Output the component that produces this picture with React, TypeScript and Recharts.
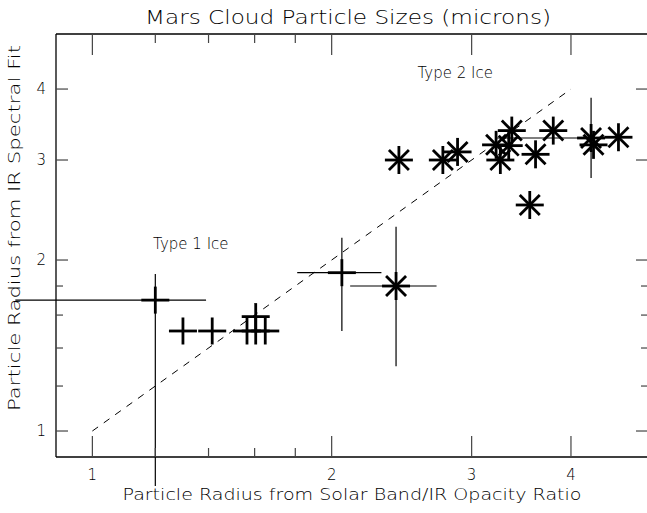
import { ScatterChart, Scatter, XAxis, YAxis, ErrorBar, ReferenceLine, ReferenceDot, Label } from 'recharts';

// Type 1 ice retrievals: radius from solar band / IR opacity ratio vs IR spectral fit
const type1Solar = [1.2, 1.3, 1.415, 1.565, 1.605, 1.65, 1.605, 2.06];
const type1Ir = [1.7, 1.5, 1.5, 1.5, 1.5, 1.5, 1.59, 1.9];
const type1SolarRange: ([number, number] | null)[] = [[0.8, 1.39], null, null, null, null, null, null, [1.81, 2.31]];
const type1IrRange: ([number, number] | null)[] = [[0.8, 1.89], null, null, null, null, null, null, [1.5, 2.19]];

// Type 2 ice retrievals
const type2Solar = [2.41, 2.43, 2.76, 2.88, 3.22, 3.26, 3.34, 3.37, 3.55, 3.61, 3.8, 4.24, 4.27, 4.59];
const type2Ir = [1.8, 3.0, 3.0, 3.1, 3.19, 3.0, 3.18, 3.38, 2.5, 3.07, 3.38, 3.28, 3.19, 3.29];
const type2SolarRange: ([number, number] | null)[] = [
  [2.11, 2.71], null, null, null, null, null, null, null, null, null, null, [3.23, 4.38], null, null,
];
const type2IrRange: ([number, number] | null)[] = [
  [1.3, 2.29], null, null, null, null, null, null, null, null, null, null, [2.79, 3.86], null, null,
];

// one-to-one reference line
const oneToOne = [1, 4];

const axisTicks = [1, 1.2, 1.4, 1.6, 1.8, 2, 3, 4];
const labelledTicks = [1, 2, 3, 4];
const DOMAIN: [number, number] = [0.9, 5];

const FONT = '"DejaVu Sans", sans-serif';
const INK = '#000';
const TICK_INK = '#444';

function toRows(
  xs: number[],
  ys: number[],
  xr: ([number, number] | null)[],
  yr: ([number, number] | null)[],
) {
  return xs.map((x, i) => ({
    x,
    y: ys[i],
    ex: xr[i] ? [x - xr[i]![0], xr[i]![1] - x] : null,
    ey: yr[i] ? [ys[i] - yr[i]![0], yr[i]![1] - ys[i]] : null,
  }));
}

const type1Rows = toRows(type1Solar, type1Ir, type1SolarRange, type1IrRange);
const type2Rows = toRows(type2Solar, type2Ir, type2SolarRange, type2IrRange);

function PlusMark(props: any) {
  const { cx, cy } = props;
  return (
    <g stroke="#000" strokeWidth={2.8}>
      <line x1={cx - 14} y1={cy} x2={cx + 14} y2={cy} />
      <line x1={cx} y1={cy - 13.5} x2={cx} y2={cy + 13.5} />
    </g>
  );
}

function StarMark(props: any) {
  const { cx, cy } = props;
  const r = 14;
  const d = 10;
  return (
    <g stroke="#000" strokeWidth={2.8}>
      <line x1={cx - r} y1={cy} x2={cx + r} y2={cy} />
      <line x1={cx} y1={cy - r} x2={cx} y2={cy + r} />
      <line x1={cx - d} y1={cy - d} x2={cx + d} y2={cy + d} />
      <line x1={cx - d} y1={cy + d} x2={cx + d} y2={cy - d} />
    </g>
  );
}

// inward ticks: long for labelled values, short for the minor ones
function BottomTick(props: any) {
  const { x, y, payload } = props;
  const major = labelledTicks.includes(payload.value);
  return (
    <g>
      <line x1={x} y1={y} x2={x} y2={y - (major ? 21 : 9)} stroke={TICK_INK} strokeWidth={1.2} />
      {major && (
        <text x={x} y={y + 23} textAnchor="middle" fontSize={15} fontFamily={FONT} fontWeight={200} fill={INK}>
          {payload.value}
        </text>
      )}
    </g>
  );
}

function TopTick(props: any) {
  const { x, y, payload } = props;
  const major = labelledTicks.includes(payload.value);
  return <line x1={x} y1={y} x2={x} y2={y + (major ? 21 : 9)} stroke={TICK_INK} strokeWidth={1.2} />;
}

function LeftTick(props: any) {
  const { x, y, payload } = props;
  const major = labelledTicks.includes(payload.value);
  return (
    <g>
      <line x1={x} y1={y} x2={x + (major ? 12 : 7)} y2={y} stroke={TICK_INK} strokeWidth={1.2} />
      {major && (
        <text x={x - 10} y={y + 5} textAnchor="end" fontSize={15} fontFamily={FONT} fontWeight={200} fill={INK}>
          {payload.value}
        </text>
      )}
    </g>
  );
}

function RightTick(props: any) {
  const { x, y, payload } = props;
  const major = labelledTicks.includes(payload.value);
  return <line x1={x} y1={y} x2={x - (major ? 12 : 7)} y2={y} stroke={TICK_INK} strokeWidth={1.2} />;
}

const frame = { stroke: '#000', strokeWidth: 1.3 };

export default function App() {
  return (
    <div style={{ position: 'absolute', left: 0, top: 0, width: 647, height: 513, overflow: 'hidden', background: '#fff' }}>
      <svg width={647} height={34} style={{ position: 'absolute', left: 0, top: 0 }}>
        <text
          x={348}
          y={24}
          textAnchor="middle"
          fontSize={19}
          fontFamily={FONT}
          fontWeight={200}
          fill={INK}
          textLength={406}
          lengthAdjust="spacingAndGlyphs"
        >
          Mars Cloud Particle Sizes (microns)
        </text>
      </svg>
      <ScatterChart width={660} height={513} margin={{ top: 33, right: 11, bottom: 0, left: 0 }}>
        <XAxis
          dataKey="x"
          type="number"
          scale="log"
          domain={DOMAIN}
          allowDataOverflow
          ticks={axisTicks}
          interval={0}
          tickSize={0}
          tickMargin={0}
          tickLine={false}
          tick={BottomTick}
          axisLine={frame}
          height={56}
        >
          <Label
            content={({ viewBox }: any) => (
              <text
                x={viewBox.x + viewBox.width / 2}
                y={viewBox.y + 43}
                textAnchor="middle"
                fontSize={15.5}
                fontFamily={FONT}
                fontWeight={200}
                fill={INK}
                textLength={459}
                lengthAdjust="spacingAndGlyphs"
              >
                Particle Radius from Solar Band/IR Opacity Ratio
              </text>
            )}
          />
        </XAxis>
        <XAxis
          xAxisId="top"
          orientation="top"
          dataKey="x"
          type="number"
          scale="log"
          domain={DOMAIN}
          allowDataOverflow
          ticks={axisTicks}
          interval={0}
          tickSize={0}
          tickMargin={0}
          tickLine={false}
          tick={TopTick}
          axisLine={frame}
          height={1}
        />
        <YAxis
          dataKey="y"
          type="number"
          scale="log"
          domain={DOMAIN}
          allowDataOverflow
          ticks={axisTicks}
          interval={0}
          tickSize={0}
          tickMargin={0}
          tickLine={false}
          tick={LeftTick}
          axisLine={frame}
          width={56}
        >
          <Label
            content={() => {
              const cx = 15;
              const cy = 228;
              return (
                <text
                  x={cx}
                  y={cy}
                  transform={`rotate(-90 ${cx} ${cy})`}
                  textAnchor="middle"
                  dominantBaseline="middle"
                  fontSize={15.5}
                  fontFamily={FONT}
                  fontWeight={200}
                  fill={INK}
                  textLength={366}
                  lengthAdjust="spacingAndGlyphs"
                >
                  Particle Radius from IR Spectral Fit
                </text>
              );
            }}
          />
        </YAxis>
        <YAxis
          yAxisId="right"
          orientation="right"
          dataKey="y"
          type="number"
          scale="log"
          domain={DOMAIN}
          allowDataOverflow
          ticks={axisTicks}
          interval={0}
          tickSize={0}
          tickMargin={0}
          tickLine={false}
          tick={RightTick}
          axisLine={frame}
          width={1}
        />
        <ReferenceLine
          segment={[
            { x: oneToOne[0], y: oneToOne[0] },
            { x: oneToOne[1], y: oneToOne[1] },
          ]}
          stroke="#000"
          strokeWidth={1}
          strokeDasharray="7 7"
        />
        <Scatter data={type1Rows} shape={PlusMark} isAnimationActive={false}>
          <ErrorBar dataKey="ex" direction="x" width={0} stroke="#000" strokeWidth={1.2} />
          <ErrorBar dataKey="ey" direction="y" width={0} stroke="#000" strokeWidth={1.2} />
        </Scatter>
        <Scatter data={type2Rows} shape={StarMark} isAnimationActive={false}>
          <ErrorBar dataKey="ex" direction="x" width={0} stroke="#000" strokeWidth={1.2} />
          <ErrorBar dataKey="ey" direction="y" width={0} stroke="#000" strokeWidth={1.2} />
        </Scatter>
        <ReferenceDot x={1.33} y={2.14} r={0} stroke="none" fill="none">
          <Label value="Type 1 Ice" position="center" fontSize={15} fontFamily={FONT} fontWeight={200} fill={INK} />
        </ReferenceDot>
        <ReferenceDot x={2.86} y={4.27} r={0} stroke="none" fill="none">
          <Label value="Type 2 Ice" position="center" fontSize={15} fontFamily={FONT} fontWeight={200} fill={INK} />
        </ReferenceDot>
      </ScatterChart>
    </div>
  );
}
